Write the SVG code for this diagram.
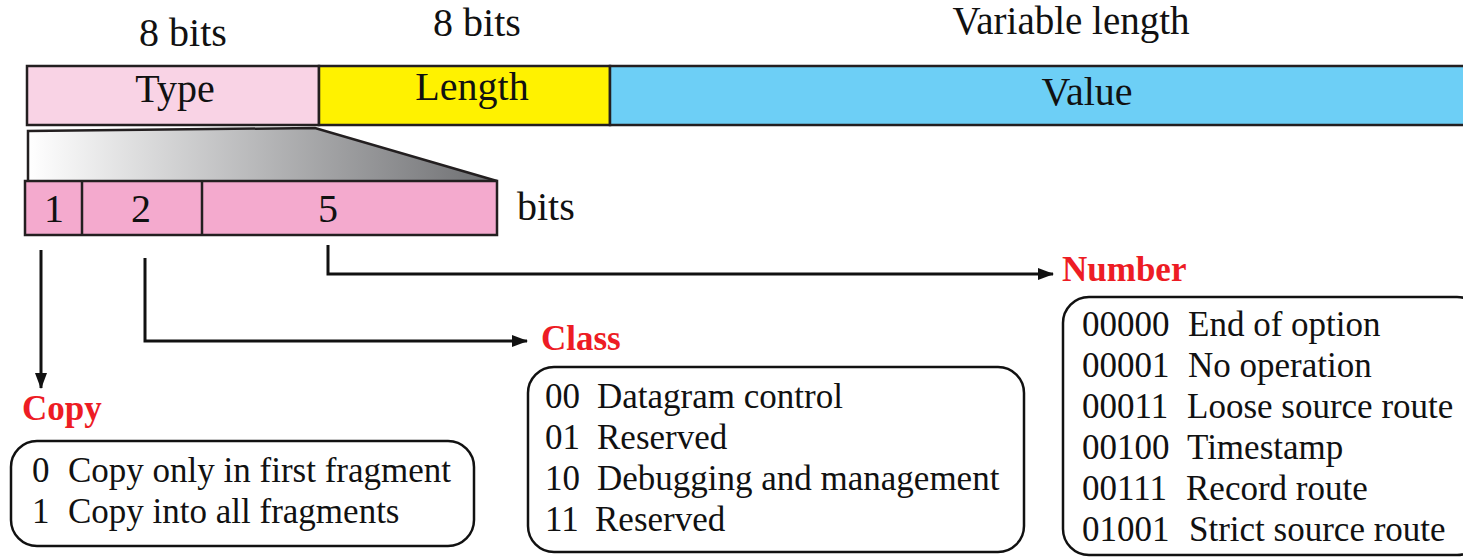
<svg xmlns="http://www.w3.org/2000/svg" width="1463" height="558" viewBox="0 0 1463 558" font-family="'Liberation Serif', 'Times New Roman', serif">
<style>
  text { fill: #111; }
  .lbl { font-size: 40px; }
  .item { font-size: 35px; }
  .red { font-size: 35px; font-weight: bold; fill: #ED1C24; }
  .box { stroke: #231F20; stroke-width: 2.5; }
  .rbox { fill: #fff; stroke: #111; stroke-width: 2.5; }
  .conn { fill: none; stroke: #111; stroke-width: 3; }
</style>
<defs>
  <linearGradient id="grad" x1="0" y1="0" x2="1" y2="0">
    <stop offset="0" stop-color="#ffffff"/>
    <stop offset="1" stop-color="#6D6E71"/>
  </linearGradient>
  <marker id="arr" viewBox="0 0 16 12" refX="15" refY="6" markerWidth="16" markerHeight="12" markerUnits="userSpaceOnUse" orient="auto">
    <path d="M0,0 L16,6 L0,12 Z" fill="#111"/>
  </marker>
</defs>

<g id="field-labels">
  <text class="lbl" x="183" y="46" text-anchor="middle">8 bits</text>
  <text class="lbl" x="477" y="36" text-anchor="middle">8 bits</text>
  <text class="lbl" x="1071" y="34" text-anchor="middle" style="font-size:39px">Variable length</text>
</g>

<g id="type">
  <rect class="box" x="27" y="66" width="292" height="59" fill="#F9D3E5"/>
  <text class="lbl" x="175" y="102" text-anchor="middle">Type</text>
</g>
<g id="length">
  <rect class="box" x="319" y="66" width="291" height="59" fill="#FFF200"/>
  <text class="lbl" x="472" y="100" text-anchor="middle">Length</text>
</g>
<g id="value">
  <rect class="box" x="610" y="66" width="860" height="59" fill="#6DCFF6"/>
  <text class="lbl" x="1087" y="105" text-anchor="middle">Value</text>
</g>

<g id="expansion">
  <path d="M28,181 L28,131 L315,128 L497,181 Z" fill="url(#grad)"/>
  <path d="M28,181 L28,131 L315,128 L497,181" fill="none" stroke="#231F20" stroke-width="2.5"/>
</g>

<g id="subfields">
  <rect class="box" x="25" y="181" width="472" height="54" fill="#F4AACE"/>
  <line class="box" x1="82" y1="181" x2="82" y2="235"/>
  <line class="box" x1="202" y1="181" x2="202" y2="235"/>
  <text class="lbl" x="54" y="222" text-anchor="middle">1</text>
  <text class="lbl" x="141" y="222" text-anchor="middle">2</text>
  <text class="lbl" x="328" y="222" text-anchor="middle">5</text>
  <text class="lbl" x="517" y="220">bits</text>
</g>

<g id="connectors">
  <path class="conn" d="M41,250 L41,388" marker-end="url(#arr)"/>
  <path class="conn" d="M145,258 L145,341 L527,341" marker-end="url(#arr)"/>
  <path class="conn" d="M328,245 L328,274 L1053,274" marker-end="url(#arr)"/>
</g>

<g id="copy">
  <text class="red" x="22" y="420">Copy</text>
  <rect class="rbox" x="11" y="441" width="463" height="105" rx="26"/>
  <text class="item" x="32" y="482">0</text><text class="item" x="68" y="482">Copy only in first fragment</text>
  <text class="item" x="32" y="523">1</text><text class="item" x="68" y="523">Copy into all fragments</text>
</g>

<g id="class">
  <text class="red" x="541" y="350">Class</text>
  <rect class="rbox" x="528" y="367" width="496" height="185" rx="26"/>
  <text class="item" x="545" y="408">00</text><text class="item" x="597" y="408">Datagram control</text>
  <text class="item" x="545" y="449">01</text><text class="item" x="597" y="449">Reserved</text>
  <text class="item" x="545" y="490">10</text><text class="item" x="597" y="490">Debugging and management</text>
  <text class="item" x="545" y="531">11</text><text class="item" x="595" y="531">Reserved</text>
</g>

<g id="number">
  <text class="red" x="1062" y="281">Number</text>
  <rect class="rbox" x="1063" y="297" width="420" height="258" rx="26"/>
  <text class="item" x="1082" y="336">00000</text><text class="item" x="1188" y="336">End of option</text>
  <text class="item" x="1082" y="377">00001</text><text class="item" x="1188" y="377">No operation</text>
  <text class="item" x="1082" y="418">00011</text><text class="item" x="1187" y="418">Loose source route</text>
  <text class="item" x="1082" y="459">00100</text><text class="item" x="1187" y="459">Timestamp</text>
  <text class="item" x="1082" y="500">00111</text><text class="item" x="1186" y="500">Record route</text>
  <text class="item" x="1082" y="541">01001</text><text class="item" x="1189" y="541">Strict source route</text>
</g>
</svg>
